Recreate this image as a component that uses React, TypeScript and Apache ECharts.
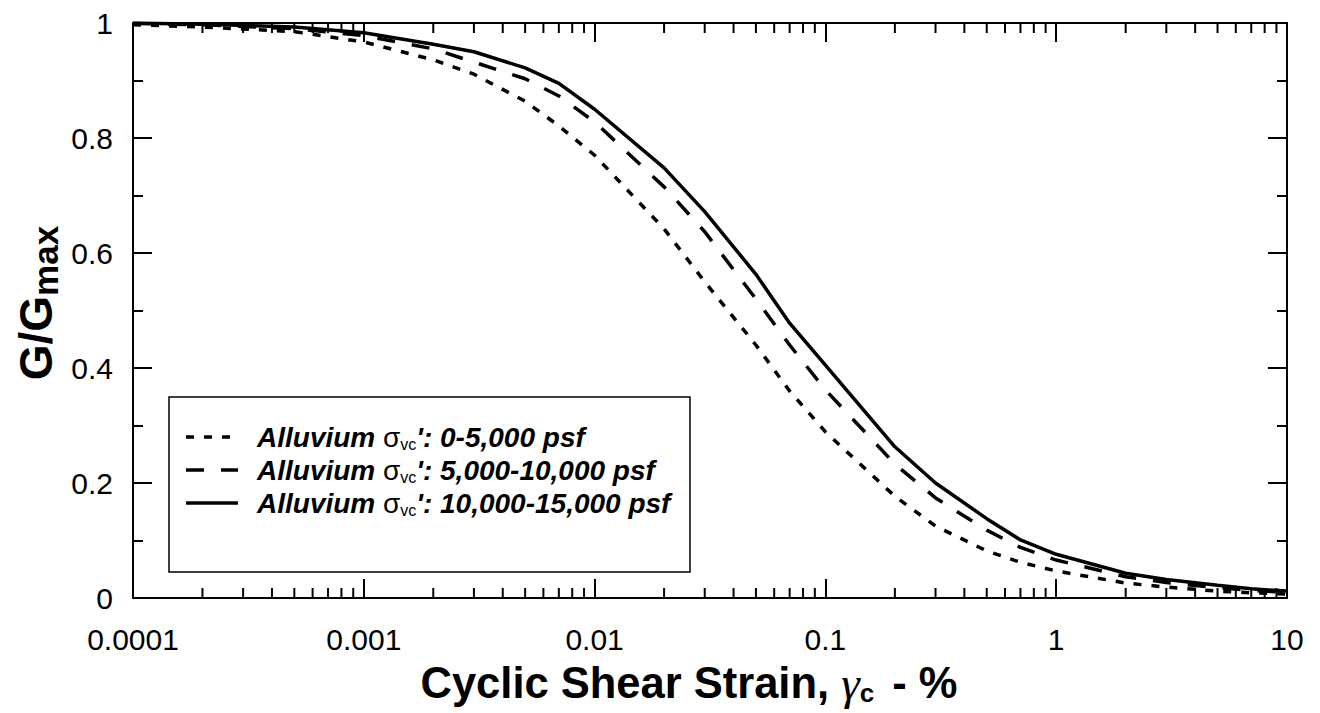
import React, { useEffect, useRef } from "react";
import * as echarts from "echarts";

// Cyclic shear strain (%) at which the curves are tabulated
const strain = [
  0.0001, 0.0002, 0.0005, 0.001, 0.002, 0.003, 0.005, 0.007, 0.01, 0.02, 0.03,
  0.05, 0.07, 0.1, 0.2, 0.3, 0.5, 0.7, 1, 2, 3, 5, 7, 10,
];

// G/Gmax for each confining-stress range
const alluvium0to5k = [
  0.997, 0.993, 0.985, 0.967, 0.936, 0.911, 0.864, 0.821, 0.77, 0.642, 0.55,
  0.44, 0.36, 0.289, 0.177, 0.125, 0.082, 0.062, 0.047, 0.026, 0.019, 0.012,
  0.009, 0.007,
];
const alluvium5kto10k = [
  0.999, 0.997, 0.99, 0.978, 0.955, 0.932, 0.903, 0.873, 0.828, 0.715, 0.637,
  0.52, 0.44, 0.362, 0.233, 0.174, 0.118, 0.088, 0.066, 0.037, 0.027, 0.018,
  0.013, 0.01,
];
const alluvium10kto15k = [
  1.0, 0.998, 0.993, 0.983, 0.963, 0.95, 0.922, 0.895, 0.85, 0.748, 0.672,
  0.563, 0.478, 0.405, 0.263, 0.2, 0.138, 0.101, 0.076, 0.043, 0.032, 0.022,
  0.016, 0.012,
];

const seriesNames = [
  "0-5,000 psf",
  "5,000-10,000 psf",
  "10,000-15,000 psf",
];

const xTickLabels = ["0.0001", "0.001", "0.01", "0.1", "1", "10"];
const yTickLabels = ["0", "0.2", "0.4", "0.6", "0.8", "1"];

// minor decade ticks 2..9 x 10^k on the log axis
const minorStrainTicks = [
  0.0002, 0.0003, 0.0004, 0.0005, 0.0006, 0.0007, 0.0008, 0.0009,
  0.002, 0.003, 0.004, 0.005, 0.006, 0.007, 0.008, 0.009,
  0.02, 0.03, 0.04, 0.05, 0.06, 0.07, 0.08, 0.09,
  0.2, 0.3, 0.4, 0.5, 0.6, 0.7, 0.8, 0.9,
  2, 3, 4, 5, 6, 7, 8, 9,
];

const SANS = "'Liberation Sans', Arial, Helvetica, sans-serif";
const SERIF = "'Liberation Serif', 'DejaVu Serif', serif";

const GRID = { left: 133, top: 23, right: 33, bottom: 115 };
const LINE_W = 3.5;
const dashStyles: any[] = [[8, 10], [18, 17], "solid"];

export default function App() {
  const ref = useRef<HTMLDivElement>(null);

  useEffect(() => {
    document.body.style.margin = "0";
    const chart = echarts.init(ref.current!, undefined, { renderer: "svg" });

    const zip = (ys: number[]) => strain.map((x, i) => [x, ys[i]]);
    const curves = [alluvium0to5k, alluvium5kto10k, alluvium10kto15k];

    const xAxisBase = {
      type: "log" as const,
      logBase: 10,
      min: 0.0001,
      max: 10,
      splitLine: { show: false },
      axisLine: { show: true, onZero: false, lineStyle: { color: "#000", width: 2 } },
      axisTick: { show: true, inside: true, length: 19, lineStyle: { color: "#000", width: 2 } },
      minorTick: { show: false },
    };
    const yAxisBase = {
      type: "value" as const,
      min: 0,
      max: 1,
      interval: 0.2,
      splitLine: { show: false },
      axisLine: { show: true, lineStyle: { color: "#000", width: 2 } },
      axisTick: { show: true, inside: true, length: 19, lineStyle: { color: "#000", width: 2 } },
      minorTick: { show: true, splitNumber: 2, length: 10, lineStyle: { color: "#000", width: 2 } },
    };

    const legendLeft = 169;
    const legendTop = 397;
    const legendW = 521;
    const legendH = 175;
    const rowY = [437, 470, 503];
    const legendChildren: any[] = [
      {
        type: "rect",
        shape: { x: legendLeft, y: legendTop, width: legendW, height: legendH },
        style: { fill: "#fff", stroke: "#000", lineWidth: 1.5 },
      },
    ];
    rowY.forEach((y, i) => {
      legendChildren.push({
        type: "line",
        shape: { x1: 186, y1: y, x2: 238, y2: y },
        style: {
          stroke: "#000",
          lineWidth: LINE_W,
          lineDash: dashStyles[i] === "solid" ? null : dashStyles[i],
        },
      });
      legendChildren.push({
        type: "text",
        x: 257,
        y,
        style: {
          text: `{a|Alluvium }{s|σ}{v|vc}{a|': ${seriesNames[i]}}`,
          verticalAlign: "middle",
          align: "left",
          rich: {
            a: { fontFamily: SANS, fontSize: 28, fontWeight: "bold", fontStyle: "italic", fill: "#000" },
            s: { fontFamily: SANS, fontSize: 28, fill: "#000" },
            v: { fontFamily: SANS, fontSize: 16, fill: "#000", padding: [15, 0, 0, 0] },
          },
        },
      });
    });

    chart.setOption({
      animation: false,
      backgroundColor: "#fff",
      grid: GRID,
      xAxis: [
        {
          ...xAxisBase,
          position: "bottom",
          axisLabel: {
            show: true,
            margin: 26,
            fontFamily: SANS,
            fontSize: 30,
            color: "#000",
            formatter: (v: number) => xTickLabels[Math.round(Math.log10(v)) + 4] ?? "",
          },
        },
        { ...xAxisBase, position: "top", axisLabel: { show: false } },
      ],
      yAxis: [
        {
          ...yAxisBase,
          position: "left",
          axisLabel: {
            show: true,
            margin: 20,
            fontFamily: SANS,
            fontSize: 30,
            color: "#000",
            formatter: (v: number) => yTickLabels[Math.round(v * 5)] ?? "",
          },
        },
        { ...yAxisBase, position: "right", axisLabel: { show: false } },
      ],
      series: [
        ...curves.map((ys, i) => ({
          type: "line",
          name: seriesNames[i],
          data: zip(ys),
          xAxisIndex: 0,
          yAxisIndex: 0,
          symbol: "none",
          smooth: false,
          lineStyle: {
            color: "#000",
            width: LINE_W,
            type: dashStyles[i],
            cap: "butt",
          },
          z: 3,
        })),
        {
          type: "custom",
          name: "minor ticks",
          xAxisIndex: 0,
          yAxisIndex: 0,
          clip: false,
          silent: true,
          data: minorStrainTicks.map((v) => [v, 0]),
          renderItem: (params: any, api: any) => {
            const v = api.value(0);
            const b = api.coord([v, 0]);
            const t = api.coord([v, 1]);
            const s = { stroke: "#000", lineWidth: 2 };
            return {
              type: "group",
              children: [
                { type: "line", shape: { x1: b[0], y1: b[1], x2: b[0], y2: b[1] - 10 }, style: s },
                { type: "line", shape: { x1: t[0], y1: t[1], x2: t[0], y2: t[1] + 10 }, style: s },
              ],
            };
          },
          z: 2,
        },
      ],
      graphic: [
        { type: "group", children: legendChildren, z: 10 },
        {
          type: "text",
          x: 689,
          y: 683,
          style: {
            text: "{t|Cyclic Shear Strain, }{g|γ}{c|c}{t| - %}",
            align: "center",
            verticalAlign: "middle",
            rich: {
              t: { fontFamily: SANS, fontSize: 43.5, fontWeight: "bold", fill: "#000" },
              g: { fontFamily: SERIF, fontSize: 47, fontStyle: "italic", fill: "#000" },
              c: { fontFamily: SANS, fontSize: 26, fontWeight: "bold", fill: "#000", padding: [20, 6, 0, 0] },
            },
          },
        },
        {
          type: "text",
          x: 36,
          y: 303,
          rotation: Math.PI / 2,
          style: {
            text: "{t|G/G}{m|max}",
            align: "center",
            verticalAlign: "middle",
            rich: {
              t: { fontFamily: SANS, fontSize: 46, fontWeight: "bold", fill: "#000" },
              m: { fontFamily: SANS, fontSize: 35, fontWeight: "bold", fill: "#000", padding: [18, 0, 0, 0] },
            },
          },
        },
      ],
    });

    return () => chart.dispose();
  }, []);

  return (
    <div
      ref={ref}
      style={{ position: "absolute", left: 0, top: 0, width: 1320, height: 713 }}
    />
  );
}
